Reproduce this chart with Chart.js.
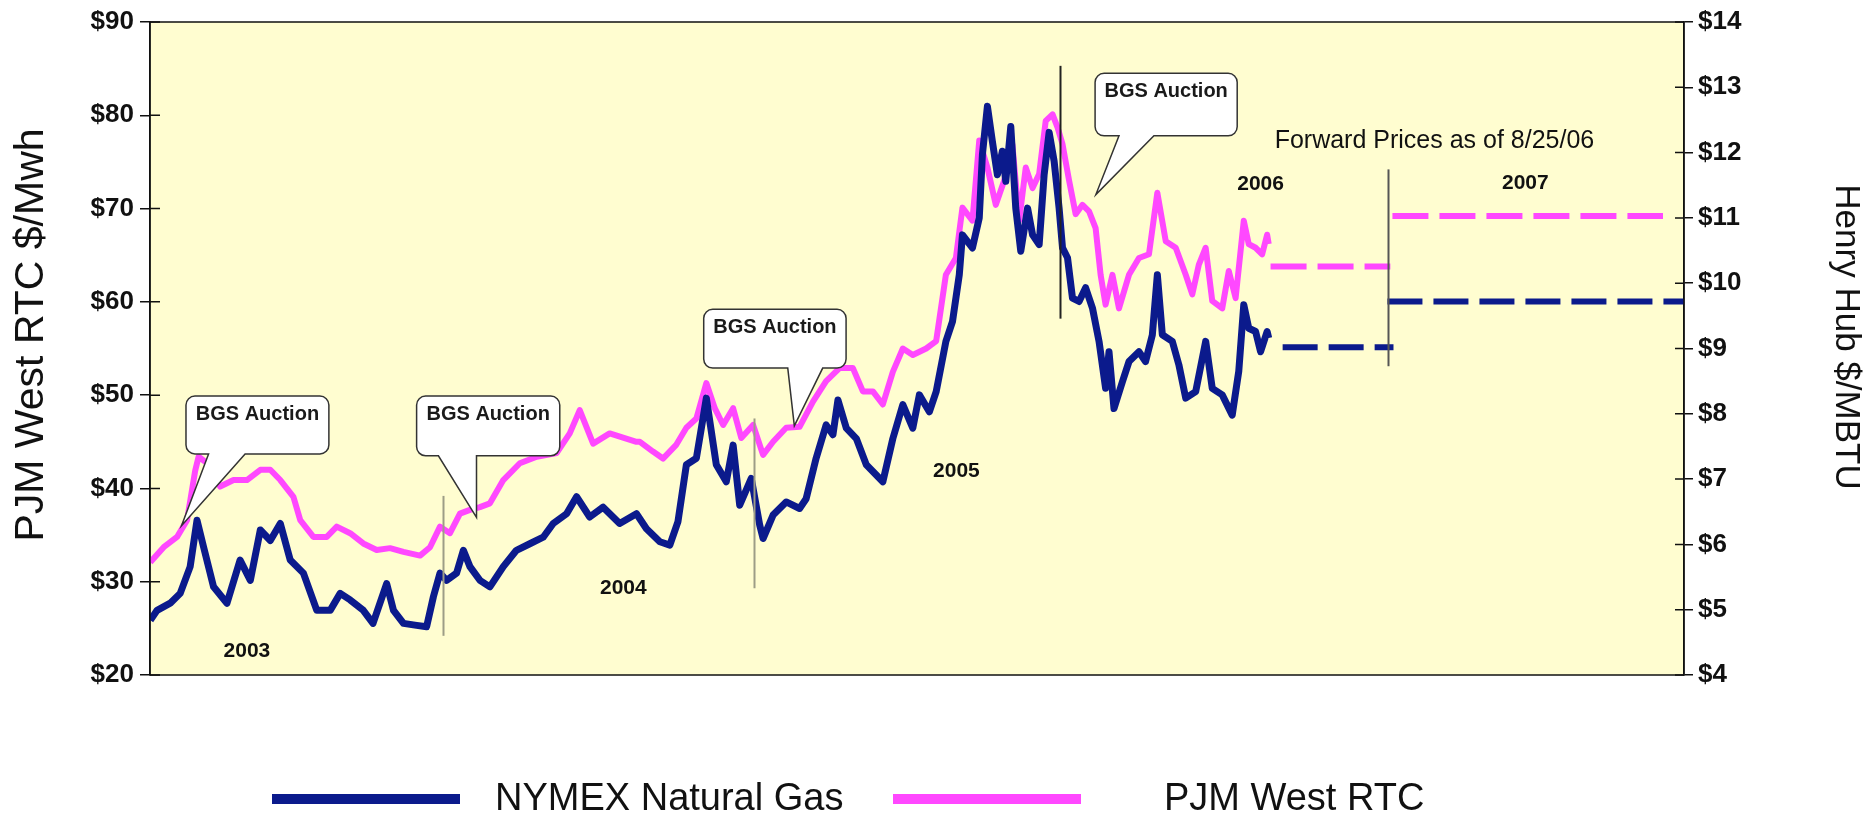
<!DOCTYPE html>
<html>
<head>
<meta charset="utf-8">
<script src="https://cdn.jsdelivr.net/npm/chart.js@4.4.1/dist/chart.umd.min.js"></script>
<style>
html,body{margin:0;padding:0;background:#ffffff;}
#wrap{width:1872px;height:815px;position:relative;}
</style>
</head>
<body>
<div id="wrap"><canvas id="c" width="1872" height="815"></canvas></div>
<script>
// ---------------- DATA ----------------
const seriesNames = ['NYMEX Natural Gas', 'PJM West RTC'];
const leftAxisTitle = 'PJM West RTC $/Mwh';
const rightAxisTitle = 'Henry Hub $/MBTU';
const leftTickLabels = ['$20','$30','$40','$50','$60','$70','$80','$90'];
const rightTickLabels = ['$4','$5','$6','$7','$8','$9','$10','$11','$12','$13','$14'];
const yearLabels = ['2003','2004','2005','2006','2007'];
const forwardNote = 'Forward Prices as of 8/25/06';
const calloutText = 'BGS Auction';

// x = months since Jan 2003 (historical series)
const gasMonths = [0.91,1.17,1.67,2.05,2.43,2.69,2.94,3.32,3.83,4.33,4.72,5.10,5.48,5.86,6.24,6.74,7.25,7.76,8.14,8.52,9.02,9.39,9.91,10.17,10.55,11.05,11.43,11.69,11.94,12.19,12.57,12.83,13.08,13.46,13.84,14.35,14.85,15.36,15.87,16.25,16.76,17.14,17.64,18.15,18.78,19.42,
  19.80,20.31,20.69,21.00,21.32,21.70,22.08,22.46,22.84,23.10,23.35,23.79,24.11,24.24,24.62,25.12,25.63,25.88,26.26,26.64,26.90,27.09,27.41,27.79,28.17,28.80,29.18,29.56,29.94,30.19,30.57,30.83,
  31.20,31.45,31.71,31.83,32.21,32.47,32.59,32.78,32.97,33.16,33.35,33.48,33.67,33.86,34.05,34.31,34.50,34.75,34.94,35.13,35.32,35.51,35.64,35.83,36.02,36.27,36.52,36.78,37.03,37.28,37.41,37.60,37.92,38.17,38.55,38.80,39.06,39.25,39.44,39.82,40.07,40.33,40.71,41.09,41.34,41.72,42.10,42.35,42.54,42.73,42.99,43.18,43.43,43.49];
const gasPrices = [4.84,4.99,5.10,5.25,5.66,6.37,5.96,5.35,5.10,5.76,5.45,6.22,6.06,6.32,5.76,5.56,4.99,4.99,5.25,5.15,4.99,4.79,5.40,4.99,4.79,4.76,4.74,5.20,5.56,5.45,5.56,5.91,5.66,5.45,5.35,5.66,5.91,6.01,6.11,6.32,6.47,6.73,6.42,6.57,6.32,6.47,
  6.24,6.04,5.99,6.35,7.22,7.32,8.24,7.22,6.96,7.52,6.60,7.01,6.30,6.09,6.45,6.65,6.55,6.70,7.32,7.83,7.68,8.21,7.78,7.62,7.22,6.96,7.62,8.14,7.78,8.29,8.03,8.34,
  9.11,9.41,10.13,10.74,10.54,11.00,11.97,12.71,12.17,11.66,12.02,11.56,12.40,11.15,10.49,11.15,10.74,10.59,11.66,12.31,11.87,11.15,10.54,10.39,9.77,9.72,9.93,9.62,9.11,8.39,8.95,8.08,8.49,8.80,8.95,8.80,9.21,10.13,9.21,9.11,8.75,8.24,8.34,9.11,8.39,8.29,7.98,8.65,9.67,9.31,9.26,8.95,9.26,9.16];

const pjmMonths = [0.91,1.42,1.93,2.31,2.62,2.75,3.07,3.57,4.08,4.59,5.10,5.48,5.86,6.36,6.62,7.12,7.63,8.01,8.52,9.02,9.53,10.04,10.55,11.18,11.56,11.94,12.32,12.70,13.08,13.46,13.84,14.35,14.98,15.62,16.38,16.88,17.26,17.77,18.40,19.42,
  19.55,20.05,20.43,20.94,21.32,21.70,22.08,22.40,22.72,23.10,23.41,23.86,24.24,24.62,25.12,25.63,26.14,26.64,27.15,27.66,28.04,28.42,28.80,29.18,29.56,29.94,30.45,30.83,
  31.20,31.58,31.83,32.21,32.47,32.78,33.10,33.42,33.73,33.99,34.24,34.50,34.75,35.00,35.26,35.45,35.64,35.89,36.14,36.40,36.65,36.90,37.09,37.28,37.54,37.79,38.17,38.55,38.93,39.25,39.57,39.95,40.33,40.58,40.83,41.09,41.34,41.72,41.97,42.23,42.54,42.73,42.99,43.24,43.43,43.49];
const pjmPrices = [32.1,33.7,34.8,36.6,41.9,43.4,42.7,40.2,40.9,40.9,42.0,42.0,40.9,39.1,36.6,34.8,34.8,35.9,35.2,34.1,33.4,33.6,33.2,32.8,33.7,35.9,35.2,37.3,37.7,38.0,38.4,40.9,42.7,43.4,43.8,45.9,48.4,44.8,45.9,45.0,
  45.0,43.95,43.2,44.7,46.5,47.5,51.3,48.6,46.8,48.6,45.4,46.8,43.6,45.0,46.5,46.6,49.3,51.5,52.9,52.9,50.4,50.4,49.0,52.5,55.0,54.3,55.0,55.8,
  62.9,64.7,70.1,68.7,77.3,74.4,70.4,73.0,76.9,68.7,74.4,72.2,73.7,79.4,80.1,78.7,76.9,73.0,69.4,70.4,69.7,67.9,62.9,59.7,62.9,59.3,62.9,64.7,65.1,71.7,66.5,65.8,62.9,60.8,64.0,65.8,60.1,59.3,63.3,60.4,68.7,66.2,65.8,65.1,67.2,66.2];

// Forward prices as of 8/25/06 (rest of 2006, calendar 2007)
const fwdPeriods = ['2006', '2007'];
const gasFwdStart = [44.02, 48.01];
const gasFwdEnd   = [48.24, 59.30];
const gasFwdPrice = [9.02, 9.72];
const pjmFwdStart = [43.56, 48.20];
const pjmFwdEnd   = [48.12, 58.50];
const pjmFwdPrice = [63.8, 69.2];

// ---------------- LAYOUT / STYLE ----------------
const FONT = "'Liberation Sans', Arial, Helvetica, sans-serif";
const GAS_COLOR = '#0b1a8c';
const PJM_COLOR = '#ff48ff';

const annotationLayout = {
  dividers: [
    {x: 12.04, from: 39.2, to: 24.2, color: '#9d9d86'},
    {x: 23.90, from: 47.5, to: 29.3, color: '#9d9d86'},
    {x: 35.54, from: 85.3, to: 58.2, color: '#222222'},
    {x: 48.05, from: 74.2, to: 53.1, color: '#555555'}
  ],
  callouts: [
    {x1: 2.27, x2: 7.71, top: 49.9, bottom: 43.7, base1: 3.13, base2: 4.52, tipX: 2.10, tipY: 36.0},
    {x1: 11.05, x2: 16.50, top: 49.9, bottom: 43.5, base1: 11.88, base2: 13.33, tipX: 13.33, tipY: 36.9},
    {x1: 21.98, x2: 27.40, top: 59.2, bottom: 52.9, base1: 25.18, base2: 26.51, tipX: 25.43, tipY: 46.7},
    {x1: 36.88, x2: 42.29, top: 84.5, bottom: 77.8, base1: 37.79, base2: 39.12, tipX: 36.91, tipY: 71.5}
  ],
  yearPos: [[4.59, 22.6], [18.92, 29.3], [31.60, 41.9], [43.18, 72.6], [53.26, 72.7]],
  notePos: [49.80, 77.2],
  leftTitle: {x: 32, y: 335, size: 41},
  rightTitle: {x: 1846, y: 337, size: 35},
  legendItemOffset: [122, 743],   // px from plot left edge
  legendTextGap: [35, 83],
  legendY: 799
};

function pts(xs, ys) { return xs.map((x, i) => ({x: x, y: ys[i]})); }
function seg(s, e, v) { return [{x: s, y: v}, {x: e, y: v}]; }

const datasets = [
  {label: seriesNames[0], data: pts(gasMonths, gasPrices), yAxisID: 'y2', borderColor: GAS_COLOR, borderWidth: 7, order: 0},
  {label: seriesNames[1], data: pts(pjmMonths, pjmPrices), yAxisID: 'y', borderColor: PJM_COLOR, borderWidth: 6, order: 1}
];
fwdPeriods.forEach((p, i) => {
  datasets.push({label: seriesNames[0] + ' forward ' + p, data: seg(gasFwdStart[i], gasFwdEnd[i], gasFwdPrice[i]), yAxisID: 'y2', borderColor: GAS_COLOR, borderWidth: 6, borderDash: [35, 11], order: 0});
  datasets.push({label: seriesNames[1] + ' forward ' + p, data: seg(pjmFwdStart[i], pjmFwdEnd[i], pjmFwdPrice[i]), yAxisID: 'y', borderColor: PJM_COLOR, borderWidth: 6, borderDash: [36, 11], order: 1});
});
datasets.forEach(d => { d.pointRadius = 0; d.tension = 0; d.fill = false; d.borderJoinStyle = 'round'; d.borderCapStyle = 'butt'; });

function drawRotated(ctx, text, x, y, angle, font) {
  ctx.save();
  ctx.translate(x, y);
  ctx.rotate(angle);
  ctx.font = font;
  ctx.fillStyle = '#111111';
  ctx.textAlign = 'center'; ctx.textBaseline = 'middle';
  ctx.fillText(text, 0, 0);
  ctx.restore();
}

const overlayPlugin = {
  id: 'overlay',
  beforeDraw(chart) {
    const {ctx, chartArea: a} = chart;
    ctx.save();
    ctx.fillStyle = '#fffdd0';
    ctx.fillRect(a.left, a.top, a.right - a.left, a.bottom - a.top);
    ctx.restore();
  },
  afterDatasetsDraw(chart) {
    const {ctx, chartArea: a, scales} = chart;
    const X = v => scales.x.getPixelForValue(v);
    const Y = v => scales.y.getPixelForValue(v);
    ctx.save();
    annotationLayout.dividers.forEach(d => {
      ctx.beginPath();
      ctx.strokeStyle = d.color; ctx.lineWidth = 2;
      const px = Math.round(X(d.x)) + 0.5;
      ctx.moveTo(px, Y(d.from)); ctx.lineTo(px, Y(d.to)); ctx.stroke();
    });
    annotationLayout.callouts.forEach(c => {
      const l = X(c.x1), r = X(c.x2), t = Y(c.top), b = Y(c.bottom);
      const b1 = X(c.base1), b2 = X(c.base2), tx = X(c.tipX), ty = Y(c.tipY), rad = 9;
      ctx.beginPath();
      ctx.moveTo(l + rad, t);
      ctx.arcTo(r, t, r, b, rad);
      ctx.arcTo(r, b, l, b, rad);
      ctx.lineTo(b2, b);
      ctx.lineTo(tx, ty);
      ctx.lineTo(b1, b);
      ctx.arcTo(l, b, l, t, rad);
      ctx.arcTo(l, t, r, t, rad);
      ctx.closePath();
      ctx.fillStyle = '#ffffff'; ctx.fill();
      ctx.strokeStyle = '#333333'; ctx.lineWidth = 1.5; ctx.stroke();
      ctx.fillStyle = '#1a1a1a';
      ctx.font = 'bold 20px ' + FONT;
      ctx.textAlign = 'center'; ctx.textBaseline = 'middle';
      ctx.fillText(calloutText, (l + r) / 2, t + 18);
    });
    ctx.fillStyle = '#111111';
    ctx.font = 'bold 21px ' + FONT;
    ctx.textAlign = 'center'; ctx.textBaseline = 'middle';
    yearLabels.forEach((yl, i) => {
      const p = annotationLayout.yearPos[i];
      ctx.fillText(yl, X(p[0]), Y(p[1]));
    });
    ctx.font = '25px ' + FONT;
    ctx.fillText(forwardNote, X(annotationLayout.notePos[0]), Y(annotationLayout.notePos[1]));
    ctx.strokeStyle = '#111111'; ctx.lineWidth = 1.5;
    ctx.strokeRect(a.left, a.top, a.right - a.left, a.bottom - a.top);
    ctx.beginPath();
    scales.y.ticks.forEach(tk => { const py = scales.y.getPixelForValue(tk.value); ctx.moveTo(a.left, py); ctx.lineTo(a.left + 10, py); });
    scales.y2.ticks.forEach(tk => { const py = scales.y2.getPixelForValue(tk.value); ctx.moveTo(a.right, py); ctx.lineTo(a.right - 9, py); });
    ctx.stroke();
    ctx.restore();
  },
  afterDraw(chart) {
    const {ctx, chartArea: a} = chart;
    const L = annotationLayout;
    drawRotated(ctx, leftAxisTitle, L.leftTitle.x, L.leftTitle.y, -Math.PI / 2, L.leftTitle.size + 'px ' + FONT);
    drawRotated(ctx, rightAxisTitle, L.rightTitle.x, L.rightTitle.y, Math.PI / 2, L.rightTitle.size + 'px ' + FONT);
    ctx.save();
    ctx.font = '38px ' + FONT;
    ctx.textAlign = 'left'; ctx.textBaseline = 'middle';
    const yc = L.legendY;
    [GAS_COLOR, PJM_COLOR].forEach((col, i) => {
      const x = a.left + L.legendItemOffset[i];
      ctx.fillStyle = col;
      ctx.fillRect(x, yc - 5, 188, 10);
      ctx.fillStyle = '#111111';
      ctx.fillText(seriesNames[i], x + 188 + L.legendTextGap[i], yc + 1);
    });
    ctx.restore();
  }
};

new Chart(document.getElementById('c'), {
  type: 'line',
  data: {datasets: datasets},
  plugins: [overlayPlugin],
  options: {
    responsive: false,
    devicePixelRatio: 1,
    animation: false,
    layout: {padding: {top: 22, bottom: 140, left: 0, right: 0}},
    plugins: {legend: {display: false}, tooltip: {enabled: false}},
    scales: {
      x: {type: 'linear', min: 0.9, max: 59.3, display: false},
      y: {
        type: 'linear', position: 'left', min: 20, max: 90,
        ticks: {stepSize: 10, color: '#111111', padding: 6, font: {family: FONT, size: 26, weight: 'bold'},
                callback: (v, i) => leftTickLabels[i]},
        grid: {drawOnChartArea: false, drawTicks: true, tickLength: 10, color: '#111111', lineWidth: 1.5},
        border: {display: true, color: '#111111', width: 1.5},
        title: {display: false, text: leftAxisTitle},
        afterFit: s => { s.width = 150; s.paddingTop = 0; s.paddingBottom = 0; }
      },
      y2: {
        type: 'linear', position: 'right', min: 4, max: 14,
        ticks: {stepSize: 1, color: '#111111', padding: 5, font: {family: FONT, size: 26, weight: 'bold'},
                callback: (v, i) => rightTickLabels[i]},
        grid: {drawOnChartArea: false, drawTicks: true, tickLength: 9, color: '#111111', lineWidth: 1.5},
        border: {display: true, color: '#111111', width: 1.5},
        title: {display: false, text: rightAxisTitle},
        afterFit: s => { s.width = 188; s.paddingTop = 0; s.paddingBottom = 0; }
      }
    }
  }
});
</script>
</body>
</html>
